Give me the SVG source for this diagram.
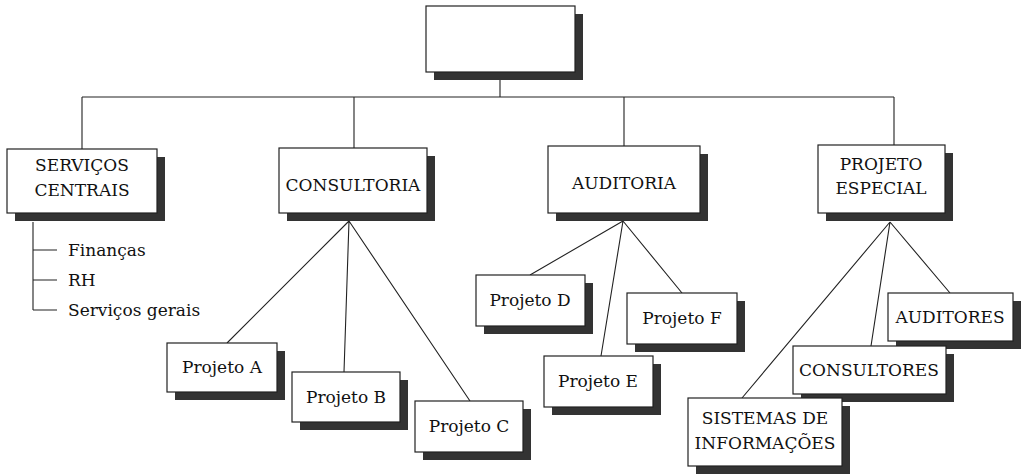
<svg xmlns="http://www.w3.org/2000/svg" width="1027" height="476" viewBox="0 0 1027 476">
<style>
.box{fill:#fff;stroke:#222;stroke-width:1.2}
.sh{fill:#333}
.t{font-family:"DejaVu Serif","Liberation Serif",serif;font-size:17px;fill:#111;text-anchor:middle}
.s{font-family:"DejaVu Serif","Liberation Serif",serif;font-size:17px;fill:#111}
.c{stroke:#222;stroke-width:1.1;fill:none}
</style>
<rect width="1027" height="476" fill="#fff"/>
<g id="connectors">
<path class="c" d="M500 72V97M82 97H894M82 97V149M354 97V148M624 97V146M894 97V145"/>
<path class="c" d="M33 222V310M33 250H57M33 280H57M33 310H57"/>
<path class="c" d="M349 221L227 343M349 221L344 372M349 221L470 401"/>
<path class="c" d="M623 221L530 275M623 221L601 356M623 221L682 293"/>
<path class="c" d="M890 222L742 398M890 222L871 346M890 222L950 293"/>
</g>
<g id="top">
<rect class="sh" x="434" y="14" width="149" height="66"/>
<rect class="box" x="426" y="6" width="149" height="66"/>
</g>
<g id="servicos-centrais">
<rect class="sh" x="15" y="157" width="150" height="64"/>
<rect class="box" x="7" y="149" width="150" height="64"/>
<text class="t" x="82" y="171">SERVIÇOS</text>
<text class="t" x="82" y="196">CENTRAIS</text>
</g>
<g id="lista">
<text class="s" x="68" y="256">Finanças</text>
<text class="s" x="68" y="286">RH</text>
<text class="s" x="68" y="316">Serviços gerais</text>
</g>
<g id="consultoria">
<rect class="sh" x="287" y="156" width="148" height="65"/>
<rect class="box" x="279" y="148" width="148" height="65"/>
<text class="t" x="353" y="191">CONSULTORIA</text>
</g>
<g id="auditoria">
<rect class="sh" x="556" y="154" width="152" height="67"/>
<rect class="box" x="548" y="146" width="152" height="67"/>
<text class="t" x="624" y="189">AUDITORIA</text>
</g>
<g id="projeto-especial">
<rect class="sh" x="826" y="153" width="127" height="68"/>
<rect class="box" x="818" y="145" width="127" height="68"/>
<text class="t" x="881" y="170">PROJETO</text>
<text class="t" x="881" y="194">ESPECIAL</text>
</g>
<g id="projeto-a">
<rect class="sh" x="175" y="351" width="110" height="49"/>
<rect class="box" x="167" y="343" width="110" height="49"/>
<text class="t" x="222" y="373">Projeto A</text>
</g>
<g id="projeto-b">
<rect class="sh" x="300" y="380" width="108" height="50"/>
<rect class="box" x="292" y="372" width="108" height="50"/>
<text class="t" x="346" y="403">Projeto B</text>
</g>
<g id="projeto-c">
<rect class="sh" x="423" y="409" width="108" height="51"/>
<rect class="box" x="415" y="401" width="108" height="51"/>
<text class="t" x="469" y="432">Projeto C</text>
</g>
<g id="projeto-d">
<rect class="sh" x="484" y="283" width="109" height="51"/>
<rect class="box" x="476" y="275" width="109" height="51"/>
<text class="t" x="530" y="306">Projeto D</text>
</g>
<g id="projeto-e">
<rect class="sh" x="552" y="364" width="109" height="51"/>
<rect class="box" x="544" y="356" width="109" height="51"/>
<text class="t" x="598" y="387">Projeto E</text>
</g>
<g id="projeto-f">
<rect class="sh" x="635" y="301" width="110" height="51"/>
<rect class="box" x="627" y="293" width="110" height="51"/>
<text class="t" x="682" y="324">Projeto F</text>
</g>
<g id="auditores">
<rect class="sh" x="896" y="301" width="125" height="48"/>
<rect class="box" x="888" y="293" width="125" height="48"/>
<text class="t" x="950" y="323">AUDITORES</text>
</g>
<g id="consultores">
<rect class="sh" x="801" y="354" width="153" height="48"/>
<rect class="box" x="793" y="346" width="153" height="48"/>
<text class="t" x="869" y="376">CONSULTORES</text>
</g>
<g id="sistemas">
<rect class="sh" x="696" y="406" width="154" height="68"/>
<rect class="box" x="688" y="398" width="154" height="68"/>
<text class="t" x="765" y="424">SISTEMAS DE</text>
<text class="t" x="765" y="449">INFORMAÇÕES</text>
</g>
</svg>
